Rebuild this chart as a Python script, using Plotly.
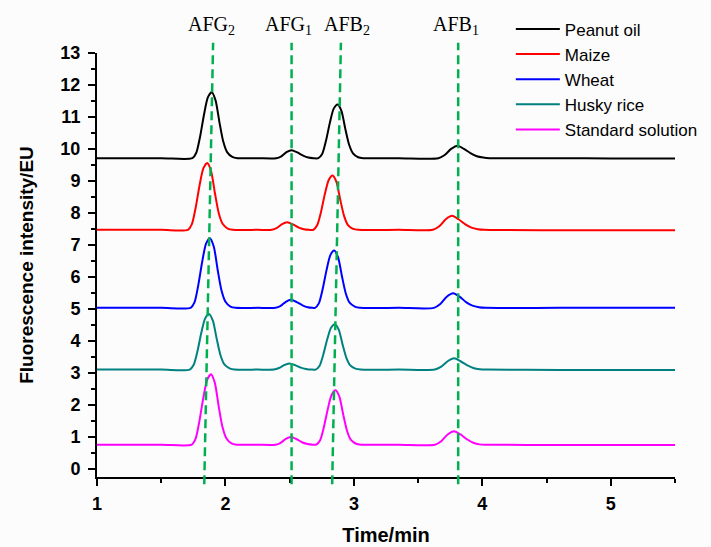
import plotly.graph_objects as go

# ---- data ----
peanut_t = [1.00, 1.50, 1.743, 1.773, 1.803, 1.833, 1.863, 1.893, 1.923, 1.953, 1.983, 2.013, 2.053, 2.093,
            2.25, 2.395, 2.435, 2.475, 2.515, 2.560, 2.605, 2.645, 2.685,
            2.723, 2.753, 2.783, 2.813, 2.843, 2.873, 2.903, 2.933, 2.963, 2.993, 3.033, 3.073,
            3.35, 3.657, 3.707, 3.757, 3.807, 3.857, 3.907, 3.957, 4.007, 4.057, 4.6, 5.0, 5.5]
peanut_v = [9.71, 9.71, 9.71, 9.88, 10.39, 11.07, 11.61, 11.77, 11.52, 10.84, 10.23, 9.90, 9.75, 9.71,
            9.71, 9.71, 9.77, 9.90, 9.96, 9.89, 9.79, 9.73, 9.71,
            9.71, 9.84, 10.26, 10.82, 11.26, 11.39, 11.19, 10.63, 10.13, 9.86, 9.74, 9.71,
            9.71, 9.71, 9.81, 10.00, 10.10, 10.00, 9.87, 9.77, 9.73, 9.71, 9.71, 9.70, 9.70]

maize_t = [1.00, 1.50, 1.708, 1.738, 1.768, 1.798, 1.828, 1.858, 1.888, 1.918, 1.948, 1.978, 2.018, 2.058,
           2.25, 2.361, 2.401, 2.441, 2.481, 2.526, 2.571, 2.611, 2.651,
           2.684, 2.714, 2.744, 2.774, 2.804, 2.834, 2.864, 2.894, 2.924, 2.954, 2.994, 3.034,
           3.35, 3.615, 3.665, 3.715, 3.765, 3.815, 3.865, 3.915, 3.965, 4.015, 4.6, 5.5]
maize_v = [7.47, 7.47, 7.47, 7.64, 8.16, 8.85, 9.39, 9.56, 9.31, 8.62, 7.99, 7.66, 7.51, 7.47,
           7.47, 7.47, 7.53, 7.65, 7.71, 7.64, 7.54, 7.49, 7.47,
           7.47, 7.61, 8.03, 8.59, 9.03, 9.17, 8.97, 8.41, 7.90, 7.62, 7.50, 7.47,
           7.47, 7.47, 7.58, 7.80, 7.91, 7.80, 7.65, 7.54, 7.49, 7.47, 7.46, 7.46]

wheat_t = [1.00, 1.50, 1.729, 1.759, 1.789, 1.819, 1.849, 1.879, 1.909, 1.939, 1.969, 1.999, 2.039, 2.079,
           2.25, 2.390, 2.430, 2.470, 2.510, 2.555, 2.600, 2.640, 2.680,
           2.697, 2.727, 2.757, 2.787, 2.817, 2.847, 2.877, 2.907, 2.937, 2.967, 3.007, 3.047,
           3.35, 3.623, 3.673, 3.723, 3.773, 3.823, 3.873, 3.923, 3.973, 4.023, 4.6, 5.5]
wheat_v = [5.03, 5.03, 5.03, 5.20, 5.75, 6.47, 7.04, 7.21, 6.95, 6.23, 5.58, 5.23, 5.07, 5.03,
           5.03, 5.03, 5.09, 5.22, 5.28, 5.21, 5.11, 5.05, 5.03,
           5.03, 5.17, 5.62, 6.21, 6.68, 6.82, 6.61, 6.02, 5.48, 5.19, 5.07, 5.03,
           5.03, 5.03, 5.15, 5.38, 5.49, 5.38, 5.21, 5.10, 5.05, 5.03, 5.03, 5.03]

husky_t = [1.00, 1.50, 1.722, 1.752, 1.782, 1.812, 1.842, 1.872, 1.902, 1.932, 1.962, 1.992, 2.032, 2.072,
           2.25, 2.377, 2.417, 2.457, 2.497, 2.542, 2.587, 2.627, 2.667,
           2.702, 2.732, 2.762, 2.792, 2.822, 2.852, 2.882, 2.912, 2.942, 2.972, 3.012, 3.052,
           3.35, 3.630, 3.680, 3.730, 3.780, 3.830, 3.880, 3.930, 3.980, 4.030, 4.6, 5.5]
husky_v = [3.10, 3.10, 3.10, 3.24, 3.67, 4.25, 4.70, 4.84, 4.63, 4.06, 3.54, 3.26, 3.14, 3.10,
           3.10, 3.10, 3.15, 3.24, 3.29, 3.24, 3.16, 3.12, 3.10,
           3.10, 3.21, 3.57, 4.04, 4.41, 4.52, 4.35, 3.88, 3.46, 3.23, 3.13, 3.10,
           3.10, 3.10, 3.19, 3.36, 3.45, 3.36, 3.24, 3.15, 3.11, 3.10, 3.09, 3.09]

standard_t = [1.00, 1.50, 1.737, 1.767, 1.797, 1.827, 1.857, 1.887, 1.917, 1.947, 1.977, 2.007, 2.047, 2.087,
              2.25, 2.390, 2.430, 2.470, 2.510, 2.555, 2.600, 2.640, 2.680,
              2.707, 2.737, 2.767, 2.797, 2.827, 2.857, 2.887, 2.917, 2.947, 2.977, 3.017, 3.057,
              3.35, 3.630, 3.680, 3.730, 3.780, 3.830, 3.880, 3.930, 3.980, 4.030, 4.6, 5.5]
standard_v = [0.75, 0.75, 0.75, 0.93, 1.48, 2.20, 2.77, 2.95, 2.69, 1.96, 1.30, 0.95, 0.79, 0.75,
              0.75, 0.75, 0.81, 0.93, 0.99, 0.92, 0.82, 0.77, 0.75,
              0.75, 0.89, 1.31, 1.87, 2.31, 2.45, 2.25, 1.69, 1.18, 0.90, 0.78, 0.75,
              0.75, 0.75, 0.86, 1.07, 1.17, 1.07, 0.92, 0.81, 0.76, 0.75, 0.74, 0.74]

series_names = ["Peanut oil", "Maize", "Wheat", "Husky rice", "Standard solution"]
series_colors = ["#000000", "#ff0000", "#0000ff", "#008080", "#ff00ff"]

# reference marker lines (times at top and bottom of each dashed line) and labels
mark_labels = ["AFG<sub>2</sub>", "AFG<sub>1</sub>", "AFB<sub>2</sub>", "AFB<sub>1</sub>"]
mark_top_t = [1.904, 2.515, 2.899, 3.812]
mark_bottom_t = [1.835, 2.515, 2.831, 3.812]
label_t = [1.893, 2.494, 2.950, 3.792]

x_ticks = [1, 2, 3, 4, 5]
y_ticks = list(range(0, 14))

fig = go.Figure()
all_t = [peanut_t, maize_t, wheat_t, husky_t, standard_t]
all_v = [peanut_v, maize_v, wheat_v, husky_v, standard_v]
for name, col, t, v in zip(series_names, series_colors, all_t, all_v):
    fig.add_trace(go.Scatter(x=t, y=v, mode="lines", name=name,
                             line=dict(color=col, width=2, shape="spline", smoothing=0.7)))

for tt, tb in zip(mark_top_t, mark_bottom_t):
    fig.add_shape(type="line", xref="x", yref="paper", x0=tb, x1=tt, y0=-0.017, y1=1.024,
                  line=dict(color="#00b050", width=2.5, dash="9px,5px"))

for lab, lt in zip(mark_labels, label_t):
    fig.add_annotation(x=lt, xref="x", y=1.064, yref="paper", text=lab, showarrow=False,
                       xanchor="center", yanchor="middle",
                       font=dict(family="Liberation Serif", size=20, color="#000000"))

axis_font = dict(family="Liberation Sans", size=18, color="#000000", weight="bold")
title_font = dict(family="Liberation Sans", size=20, color="#000000", weight="bold")
fig.update_layout(
    width=711, height=547,
    margin=dict(l=97, r=36, t=53, b=70, autoexpand=False),
    paper_bgcolor="#fcfcfc", plot_bgcolor="#fcfcfc",
    showlegend=True,
    legend=dict(x=0.716, y=1.098, xanchor="left", yanchor="top",
                font=dict(family="Liberation Sans", size=17, color="#000000"),
                bgcolor="rgba(0,0,0,0)", itemwidth=44, tracegroupgap=0),
    xaxis=dict(range=[1, 5.5], tickvals=x_ticks, showgrid=False, zeroline=False,
               showline=True, linecolor="#000000", linewidth=2, automargin=False,
               ticks="outside", ticklen=7, tickwidth=2, tickcolor="#000000",
               minor=dict(dtick=0.5, ticks="outside", ticklen=4, tickwidth=2, tickcolor="#000000"),
               tickfont=axis_font, ticklabelstandoff=2,
               title=dict(text="Time/min", font=title_font, standoff=15)),
    yaxis=dict(range=[-0.26, 13], tickvals=y_ticks, showgrid=False, zeroline=False,
               showline=True, linecolor="#000000", linewidth=2, automargin=False,
               ticks="outside", ticklen=7, tickwidth=2, tickcolor="#000000",
               minor=dict(dtick=0.5, ticks="outside", ticklen=4, tickwidth=2, tickcolor="#000000"),
               tickfont=axis_font, ticklabelstandoff=4,
               title=dict(text="Fluorescence intensity/EU", font=dict(family="Liberation Sans", size=19, color="#000000", weight="bold"), standoff=22)),
)

fig.write_html("out.html", config={"displayModeBar": False},
               post_script="document.body.style.margin='0px';")
